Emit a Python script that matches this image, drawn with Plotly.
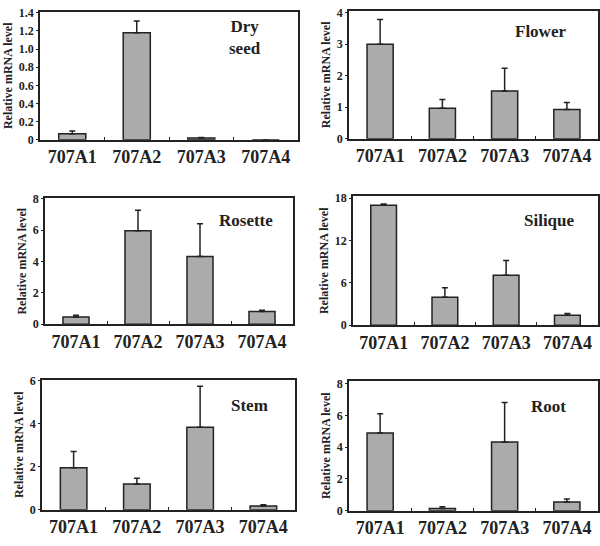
import plotly.graph_objects as go

# genes on the x axis
genes = ["707A1", "707A2", "707A3", "707A4"]

# relative mRNA level (bar height) and upper SD per tissue
dry_seed = [0.065, 1.18, 0.018, 0.0]
dry_seed_err = [0.03, 0.13, 0.007, 0.0]
flower = [3.0, 0.97, 1.52, 0.93]
flower_err = [0.79, 0.28, 0.72, 0.22]
rosette = [0.46, 5.97, 4.32, 0.81]
rosette_err = [0.12, 1.3, 2.1, 0.09]
silique = [17.0, 3.97, 7.1, 1.43]
silique_err = [0.2, 1.33, 2.08, 0.23]
stem = [1.95, 1.19, 3.82, 0.17]
stem_err = [0.75, 0.27, 1.91, 0.06]
root = [4.9, 0.14, 4.33, 0.54]
root_err = [1.2, 0.11, 2.49, 0.2]

W, H = 600, 546
FONT = "'Liberation Serif', 'Times New Roman', serif"

# (label, values, errors, box px [left, right, top, bottom], y top, y ticks, tick text, label pos)
panels = [
    ("Dry<br>seed", dry_seed, dry_seed_err, (40, 298, 6, 137), 1.41,
     [0, 0.2, 0.4, 0.6, 0.8, 1.0, 1.2, 1.4], ["0", "0.2", "0.4", "0.6", "0.8", "1.0", "1.2", "1.4"], (0.795, 0.80)),
    ("Flower", flower, flower_err, (349, 598, 5, 136), 4.06,
     [0, 1, 2, 3, 4], None, (0.77, 0.84)),
    ("Rosette", rosette, rosette_err, (45, 293, 197, 326), 8.04,
     [0, 2, 4, 6, 8], None, (0.81, 0.82)),
    ("Silique", silique, silique_err, (353, 598, 195, 327), 18.27,
     [0, 6, 12, 18], None, (0.80, 0.81)),
    ("Stem", stem, stem_err, (42, 295, 383, 516), 6.02,
     [0, 2, 4, 6], None, (0.82, 0.80)),
    ("Root", root, root_err, (349, 598, 384, 517), 8.18,
     [0, 2, 4, 6, 8], None, (0.80, 0.80)),
]

fig = go.Figure()
layout = {}
annotations = []

for i, (label, vals, errs, box, ytop, ytv, yttxt, lpos) in enumerate(panels):
    n = "" if i == 0 else str(i + 1)
    left, right, top, bottom = box
    fig.add_trace(go.Bar(
        x=genes, y=vals,
        xaxis="x" + n, yaxis="y" + n,
        marker=dict(color="#ababab", line=dict(color="#222222", width=1.5)),
        error_y=dict(type="data", symmetric=False, array=errs,
                     arrayminus=[0] * len(errs), color="#222222",
                     thickness=1.5, width=3),
        showlegend=False,
    ))
    yttxt = yttxt or [str(v) for v in ytv]
    layout["xaxis" + n] = dict(
        domain=[left / W, right / W], anchor="y" + n,
        tickvals=genes, ticktext=["<b>" + g + "</b>" for g in genes],
        showline=True, linecolor="#222222", linewidth=1.5, mirror=True,
        ticks="inside", tickson="boundaries", ticklen=3, tickcolor="#222222",
        tickfont=dict(family=FONT, size=18, color="#222222"),
        showgrid=False, fixedrange=True,
    )
    layout["yaxis" + n] = dict(
        domain=[1 - bottom / H, 1 - top / H], anchor="x" + n,
        range=[0, ytop], tickvals=ytv, ticktext=["<b>" + t + "</b>" for t in yttxt],
        showline=True, linecolor="#222222", linewidth=1.5, mirror=True,
        ticks="outside", ticklen=2, tickcolor="#222222",
        tickfont=dict(family=FONT, size=12, color="#222222"),
        title=dict(text="<b>Relative mRNA level</b>", standoff=4,
                   font=dict(family=FONT, size=12, color="#222222")),
        showgrid=False, zeroline=False, fixedrange=True,
    )
    annotations.append(dict(
        text="<b>" + label + "</b>", xref="x" + n + " domain", yref="y" + n + " domain",
        x=lpos[0], y=lpos[1], xanchor="center", yanchor="middle", showarrow=False,
        font=dict(family=FONT, size=17, color="#222222"),
    ))

fig.update_layout(
    **layout,
    annotations=annotations,
    width=W, height=H,
    margin=dict(l=0, r=0, t=0, b=0),
    bargap=0.58,
    paper_bgcolor="white", plot_bgcolor="white",
)

fig.write_html(
    "out.html",
    config={"displayModeBar": False},
    post_script="document.body.style.margin='0';document.body.style.overflow='hidden';",
)
